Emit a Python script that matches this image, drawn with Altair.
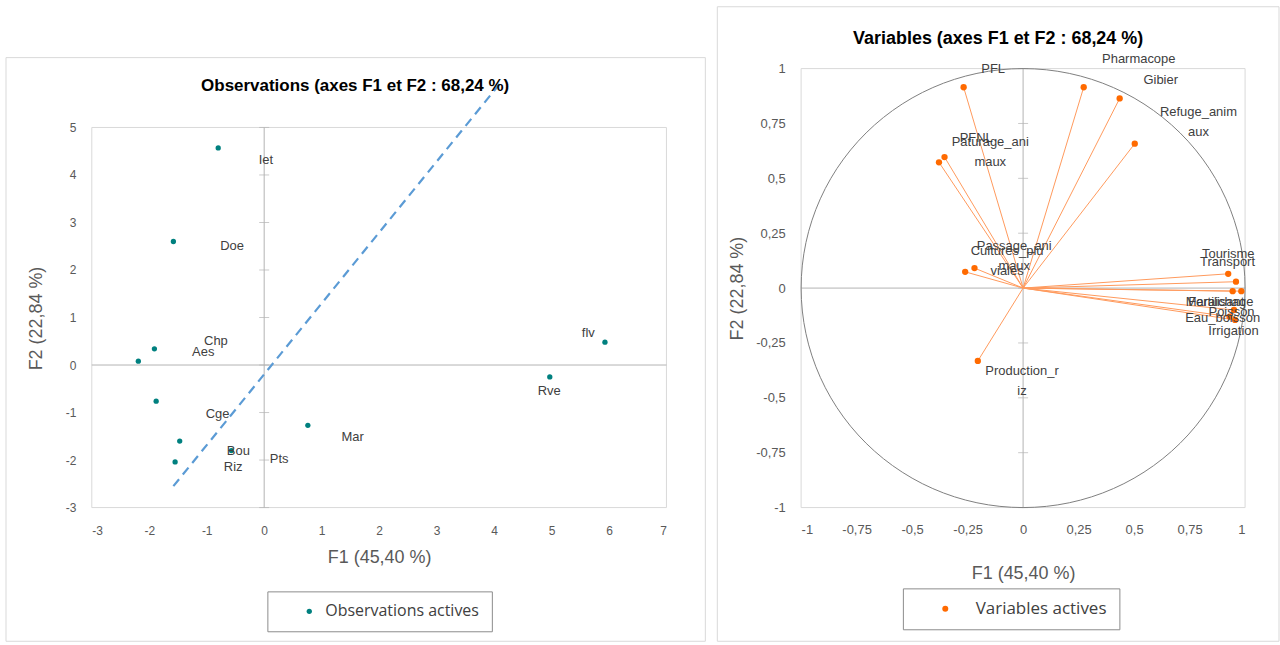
import numpy as np
import pandas as pd
import altair as alt

# ---------------- Observations (left panel) ----------------
obs_names = ["Iet", "Doe", "Chp", "Aes", "Cge", "Bou", "Riz", "Pts", "Mar", "Rve", "flv"]
obs_f1 = [-0.80, -1.58, -1.91, -2.19, -1.88, -1.47, -1.55, -0.57, 0.76, 4.97, 5.93]
obs_f2 = [4.57, 2.60, 0.34, 0.08, -0.76, -1.60, -2.04, -1.80, -1.27, -0.25, 0.48]
obs_label_f1 = [0.03, -0.56, -0.84, -1.06, -0.81, -0.45, -0.54, 0.26, 1.54, 4.96, 5.64]
obs_label_f2 = [4.31, 2.51, 0.51, 0.27, -1.03, -1.80, -2.15, -1.98, -1.52, -0.54, 0.67]
trend_f1 = [-1.58, 4.14]
trend_f2 = [-2.55, 5.98]
obs_x_ticks = [-3, -2, -1, 0, 1, 2, 3, 4, 5, 6, 7]
obs_y_ticks = [-3, -2, -1, 0, 1, 2, 3, 4, 5]
obs_series = "Observations actives"

# ---------------- Variables (right panel) ----------------
var_names = ["PFL", "Pharmacope", "Gibier", "Refuge_animaux", "Paturage_animaux", "PFNL",
             "Passage_animaux", "Cultures_pluviales", "Production_riz", "Tourisme", "Transport",
             "Maraichage", "Fertilisant", "Poisson", "Eau_boisson", "Irrigation"]
var_labels = ["PFL", "Pharmacope", "Gibier", "Refuge_anim\naux", "Paturage_ani\nmaux", "PFNL",
              "Passage_ani\nmaux", "Cultures_plu\nviales", "Production_r\niz", "Tourisme", "Transport",
              "Maraichage", "Fertilisant", "Poisson", "Eau_boisson", "Irrigation"]
var_f1 = [-0.268, 0.273, 0.435, 0.503, -0.354, -0.379, -0.219, -0.261, -0.204,
          0.924, 0.959, 0.944, 0.983, 0.950, 0.930, 0.955]
var_f2 = [0.915, 0.915, 0.864, 0.658, 0.597, 0.573, 0.091, 0.074, -0.332,
          0.065, 0.029, -0.014, -0.014, -0.100, -0.130, -0.145]
var_label_f1 = [-0.135, 0.521, 0.620, 0.790, -0.148, -0.211, -0.040, -0.072, -0.005,
                0.924, 0.921, 0.885, 0.870, 0.939, 0.899, 0.948]
var_label_f2 = [1.000, 1.045, 0.950, 0.800, 0.664, 0.686, 0.190, 0.168, -0.377,
                0.156, 0.120, -0.064, -0.064, -0.108, -0.136, -0.195]
var_ticks = [-1, -0.75, -0.5, -0.25, 0, 0.25, 0.5, 0.75, 1]
var_series = "Variables actives"

TEAL = "#00807f"
ORANGE = "#ff6a00"
FRAME = "#d9d9d9"
AXIS_GREY = "#b3b3b3"
TXT = "#404040"
FONT = "Liberation Sans"

one = pd.DataFrame({"a": [0]})
plain = "'' + datum.value"
comma = "replace('' + datum.value, '.', ',')"

# ======================= LEFT PANEL =======================
# panel height is shared with the right panel; the left plot box occupies its lower part
X1 = alt.Scale(domain=[min(obs_x_ticks), max(obs_x_ticks)], nice=False, zero=False)
Y1 = alt.Scale(domain=[min(obs_y_ticks), max(obs_y_ticks)], nice=False, zero=False, range=[440, 59])

ax_x1 = alt.Axis(values=obs_x_ticks, title="F1 (45,40 %)", domain=False, ticks=False, grid=False,
                 labelExpr=plain, labelPadding=18, labelFont=FONT, labelFontSize=12, labelColor="#595959",
                 titleFont=FONT, titleFontSize=18, titleFontWeight="normal", titleColor="#595959",
                 titlePadding=12)
ax_y1 = alt.Axis(values=obs_y_ticks, title="F2 (22,84 %)", domain=False, ticks=False, grid=False,
                 labelExpr=plain, labelPadding=16, labelFont=FONT, labelFontSize=12, labelColor="#595959",
                 titleFont=FONT, titleFontSize=18, titleFontWeight="normal", titleColor="#595959",
                 titlePadding=20, titleY=250)

obs_df = pd.DataFrame({"name": obs_names, "f1": obs_f1, "f2": obs_f2,
                       "lx": obs_label_f1, "ly": obs_label_f2, "serie": obs_series})
box1 = pd.DataFrame({"x0": [min(obs_x_ticks)], "x1": [max(obs_x_ticks)],
                     "y0": [min(obs_y_ticks)], "y1": [max(obs_y_ticks)]})
hz1 = pd.DataFrame({"x0": [min(obs_x_ticks)], "x1": [max(obs_x_ticks)], "y": [0]})
vt1 = pd.DataFrame({"x": [0], "y0": [min(obs_y_ticks)], "y1": [max(obs_y_ticks)]})
tk1 = pd.DataFrame({"x": [0] * len(obs_y_ticks), "y": obs_y_ticks})
trend_df = pd.DataFrame({"f1": trend_f1, "f2": trend_f2})


def X1e(f):
    return alt.X(f, scale=X1, axis=ax_x1)


def Y1e(f):
    return alt.Y(f, scale=Y1, axis=ax_y1)


l_outer = alt.Chart(one).mark_rect(fillOpacity=0, stroke=FRAME, strokeWidth=1).encode(
    x=alt.value(-86), x2=alt.value(615), y=alt.value(-11), y2=alt.value(574))
l_box = alt.Chart(box1).mark_rect(fillOpacity=0, stroke=FRAME, strokeWidth=1).encode(
    x=X1e("x0:Q"), x2="x1:Q", y=Y1e("y0:Q"), y2="y1:Q")
l_hz = alt.Chart(hz1).mark_rule(color=AXIS_GREY, strokeWidth=1).encode(
    x=X1e("x0:Q"), x2="x1:Q", y=Y1e("y:Q"))
l_vt = alt.Chart(vt1).mark_rule(color=AXIS_GREY, strokeWidth=1).encode(
    x=X1e("x:Q"), y=Y1e("y0:Q"), y2="y1:Q")
l_tk = alt.Chart(tk1).mark_tick(orient="horizontal", size=10, thickness=1, color=AXIS_GREY).encode(
    x=X1e("x:Q"), y=Y1e("y:Q"))
l_trend = alt.Chart(trend_df).mark_line(strokeDash=[9, 6], strokeWidth=2.2, color="#5b9bd5", clip=False).encode(
    x=X1e("f1:Q"), y=Y1e("f2:Q"))
l_pts = alt.Chart(obs_df).mark_circle(size=28, opacity=1).encode(
    x=X1e("f1:Q"), y=Y1e("f2:Q"),
    color=alt.Color("serie:N", scale=alt.Scale(domain=[obs_series], range=[TEAL]),
                    legend=alt.Legend(title=None, orient="none", legendX=176, legendY=524,
                                      strokeColor="#8c8c8c", fillColor="white", padding=12,
                                      cornerRadius=0, labelFont="Open Sans", labelFontSize=16,
                                      labelColor=TXT, symbolType="circle", symbolSize=28,
                                      symbolStrokeWidth=0, symbolOffset=22, labelOffset=8)))
l_lab = alt.Chart(obs_df).mark_text(font=FONT, fontSize=13, color=TXT).encode(
    x=X1e("lx:Q"), y=Y1e("ly:Q"), text="name:N")

left = alt.layer(l_outer, l_box, l_hz, l_vt, l_tk, l_trend, l_pts, l_lab).properties(
    width=576, height=440,
    title=alt.TitleParams("Observations (axes F1 et F2 : 68,24 %)", font=FONT, fontSize=17,
                          fontWeight="bold", color="black", anchor="middle", frame="group",
                          offset=-38, dx=-24))

# ======================= RIGHT PANEL =======================
X2 = alt.Scale(domain=[min(var_ticks), max(var_ticks)], nice=False, zero=False)
Y2 = alt.Scale(domain=[min(var_ticks), max(var_ticks)], nice=False, zero=False)

ax_x2 = alt.Axis(values=var_ticks, title="F1 (45,40 %)", domain=False, ticks=False, grid=False,
                 labelExpr=comma, labelPadding=16, labelFont=FONT, labelFontSize=13, labelColor="#595959",
                 titleFont=FONT, titleFontSize=18, titleFontWeight="normal", titleColor="#595959",
                 titlePadding=28)
ax_y2 = alt.Axis(values=var_ticks, title="F2 (22,84 %)", domain=False, ticks=False, grid=False,
                 labelExpr=comma, labelPadding=16, labelFont=FONT, labelFontSize=13, labelColor="#595959",
                 titleFont=FONT, titleFontSize=18, titleFontWeight="normal", titleColor="#595959",
                 titlePadding=9)


def X2e(f):
    return alt.X(f, scale=X2, axis=ax_x2)


def Y2e(f):
    return alt.Y(f, scale=Y2, axis=ax_y2)


var_df = pd.DataFrame({"name": var_names, "label": var_labels, "f1": var_f1, "f2": var_f2,
                       "lx": var_label_f1, "ly": var_label_f2, "o": 0.0, "serie": var_series})
box2 = pd.DataFrame({"x0": [min(var_ticks)], "x1": [max(var_ticks)],
                     "y0": [min(var_ticks)], "y1": [max(var_ticks)]})
hz2 = pd.DataFrame({"x0": [min(var_ticks)], "x1": [max(var_ticks)], "y": [0]})
vt2 = pd.DataFrame({"x": [0], "y0": [min(var_ticks)], "y1": [max(var_ticks)]})
tk2 = pd.DataFrame({"x": [0] * len(var_ticks), "y": var_ticks})
theta = np.linspace(0, 2 * np.pi, 121)
circle_df = pd.DataFrame({"cx": np.cos(theta), "cy": np.sin(theta), "k": np.arange(len(theta))})

r_outer = alt.Chart(one).mark_rect(fillOpacity=0, stroke=FRAME, strokeWidth=1).encode(
    x=alt.value(-84), x2=alt.value(479), y=alt.value(-62), y2=alt.value(574))
r_box = alt.Chart(box2).mark_rect(fillOpacity=0, stroke=FRAME, strokeWidth=1).encode(
    x=X2e("x0:Q"), x2="x1:Q", y=Y2e("y0:Q"), y2="y1:Q")
r_hz = alt.Chart(hz2).mark_rule(color=AXIS_GREY, strokeWidth=1).encode(
    x=X2e("x0:Q"), x2="x1:Q", y=Y2e("y:Q"))
r_vt = alt.Chart(vt2).mark_rule(color=AXIS_GREY, strokeWidth=1).encode(
    x=X2e("x:Q"), y=Y2e("y0:Q"), y2="y1:Q")
r_tk = alt.Chart(tk2).mark_tick(orient="horizontal", size=10, thickness=1, color=AXIS_GREY).encode(
    x=X2e("x:Q"), y=Y2e("y:Q"))
r_circle = alt.Chart(circle_df).mark_line(color="#808080", strokeWidth=1).encode(
    x=X2e("cx:Q"), y=Y2e("cy:Q"), order="k:Q")
r_vec = alt.Chart(var_df).mark_rule(color="#ff9a5c", strokeWidth=1).encode(
    x=X2e("o:Q"), y=Y2e("o:Q"), x2="f1:Q", y2="f2:Q")
r_pts = alt.Chart(var_df).mark_circle(size=40, opacity=1).encode(
    x=X2e("f1:Q"), y=Y2e("f2:Q"),
    color=alt.Color("serie:N", scale=alt.Scale(domain=[var_series], range=[ORANGE]),
                    legend=alt.Legend(title=None, orient="none", legendX=102, legendY=521,
                                      strokeColor="#8c8c8c", fillColor="white", padding=12,
                                      cornerRadius=0, labelFont="Open Sans", labelFontSize=17,
                                      labelColor=TXT, symbolType="circle", symbolSize=36,
                                      symbolStrokeWidth=0, symbolOffset=22, labelOffset=22)))
r_lab = alt.Chart(var_df).mark_text(font=FONT, fontSize=13, color=TXT, lineBreak="\n", lineHeight=20).encode(
    x=X2e("lx:Q"), y=Y2e("ly:Q"), text="label:N")

right = alt.layer(r_outer, r_box, r_hz, r_vt, r_tk, r_circle, r_vec, r_pts, r_lab).properties(
    width=445, height=440,
    title=alt.TitleParams("Variables (axes F1 et F2 : 68,24 %)", font=FONT, fontSize=18,
                          fontWeight="bold", color="black", anchor="middle", frame="group",
                          offset=-42, dx=-25))

chart = alt.hconcat(left, right, spacing=10).resolve_scale(
    color="independent", x="independent", y="independent"
).resolve_legend(color="independent").properties(
    padding={"left": 5, "top": 5, "right": 0, "bottom": 0},
    background="white",
).configure_view(stroke=None)

chart.save("out.html", embed_options={"renderer": "svg", "actions": False})
